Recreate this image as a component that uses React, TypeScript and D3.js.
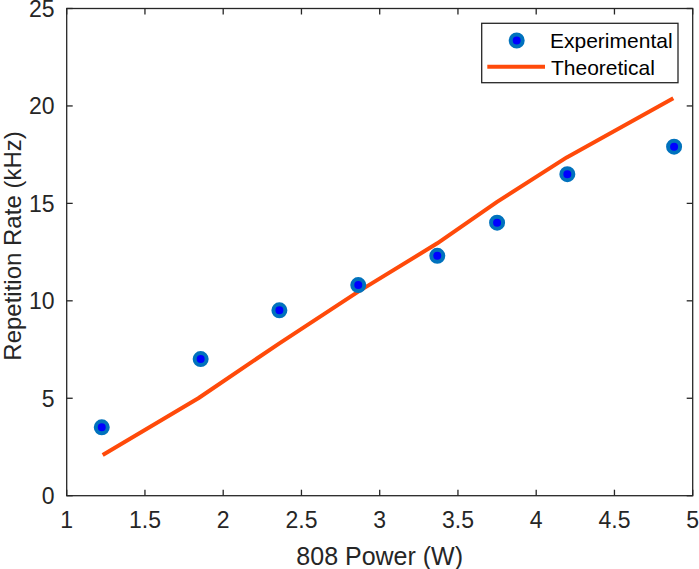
import React from "react";
import * as d3 from "d3";

const expX = [1.224, 1.856, 2.359, 2.863, 3.368, 3.75, 4.199, 4.881];
const expY = [3.51, 7.01, 9.51, 10.81, 12.31, 14.01, 16.5, 17.91];
const theoX = [1.23, 1.841, 2.359, 2.863, 3.368, 3.75, 4.195, 4.876];
const theoY = [2.09, 5.0, 7.82, 10.47, 12.95, 15.08, 17.36, 20.39];
const xTicks = [1, 1.5, 2, 2.5, 3, 3.5, 4, 4.5, 5];
const yTicks = [0, 5, 10, 15, 20, 25];
const legendLabels = ["Experimental", "Theoretical"];

const W = 699, H = 569;
const L = 66.7, R = 692.7, T = 8.5, B = 495.7;
const axisColor = "#262626";
const font = "'Liberation Sans', Arial, Helvetica, sans-serif";

export default function App() {
  const x = d3.scaleLinear().domain([1, 5]).range([L, R]);
  const y = d3.scaleLinear().domain([0, 25]).range([B, T]);
  const line = d3.line<number>().x((_, i) => x(theoX[i])).y((d) => y(d));
  const tl = 6;
  return (
    <svg width={W} height={H} style={{ position: "absolute", left: 0, top: 0 }}>
      <rect x={0} y={0} width={W} height={H} fill="#fff" />
      <path d={line(theoY) || ""} fill="none" stroke="#FF4A0A" strokeWidth={4} strokeLinejoin="round" />
      {expY.map((v, i) => (
        <circle key={i} cx={x(expX[i])} cy={y(v)} r={6} fill="#0000FF" stroke="#0072BD" strokeWidth={4} />
      ))}
      <rect x={L} y={T} width={R - L} height={B - T} fill="none" stroke={axisColor} strokeWidth={1.3} />
      {xTicks.map((t) => (
        <g key={"x" + t}>
          <line x1={x(t)} x2={x(t)} y1={B} y2={B - tl} stroke={axisColor} strokeWidth={1.3} />
          <line x1={x(t)} x2={x(t)} y1={T} y2={T + tl} stroke={axisColor} strokeWidth={1.3} />
          <text x={x(t)} y={528} textAnchor="middle" fontFamily={font} fontSize={23} fill="#262626">{t}</text>
        </g>
      ))}
      {yTicks.map((t) => (
        <g key={"y" + t}>
          <line x1={L} x2={L + tl} y1={y(t)} y2={y(t)} stroke={axisColor} strokeWidth={1.3} />
          <line x1={R} x2={R - tl} y1={y(t)} y2={y(t)} stroke={axisColor} strokeWidth={1.3} />
          <text x={54.5} y={y(t)} dy="0.36em" textAnchor="end" fontFamily={font} fontSize={23} fill="#262626">{t}</text>
        </g>
      ))}
      <text x={x(3)} y={565} textAnchor="middle" fontFamily={font} fontSize={25} fill="#262626">808 Power (W)</text>
      <text transform={`translate(20.5,246) rotate(-90)`} textAnchor="middle" fontFamily={font} fontSize={24} fill="#262626">Repetition Rate (kHz)</text>
      <g>
        <rect x={481.7} y={23.3} width={196.3} height={59.4} fill="#fff" stroke={axisColor} strokeWidth={1.3} />
        <circle cx={516.7} cy={40.5} r={6} fill="#0000FF" stroke="#0072BD" strokeWidth={4} />
        <line x1={487.3} x2={545} y1={66.7} y2={66.7} stroke="#FF4A0A" strokeWidth={4} />
        <text x={550} y={48.3} fontFamily={font} fontSize={21} fill="#000">{legendLabels[0]}</text>
        <text x={551} y={75} fontFamily={font} fontSize={21} fill="#000">{legendLabels[1]}</text>
      </g>
    </svg>
  );
}
